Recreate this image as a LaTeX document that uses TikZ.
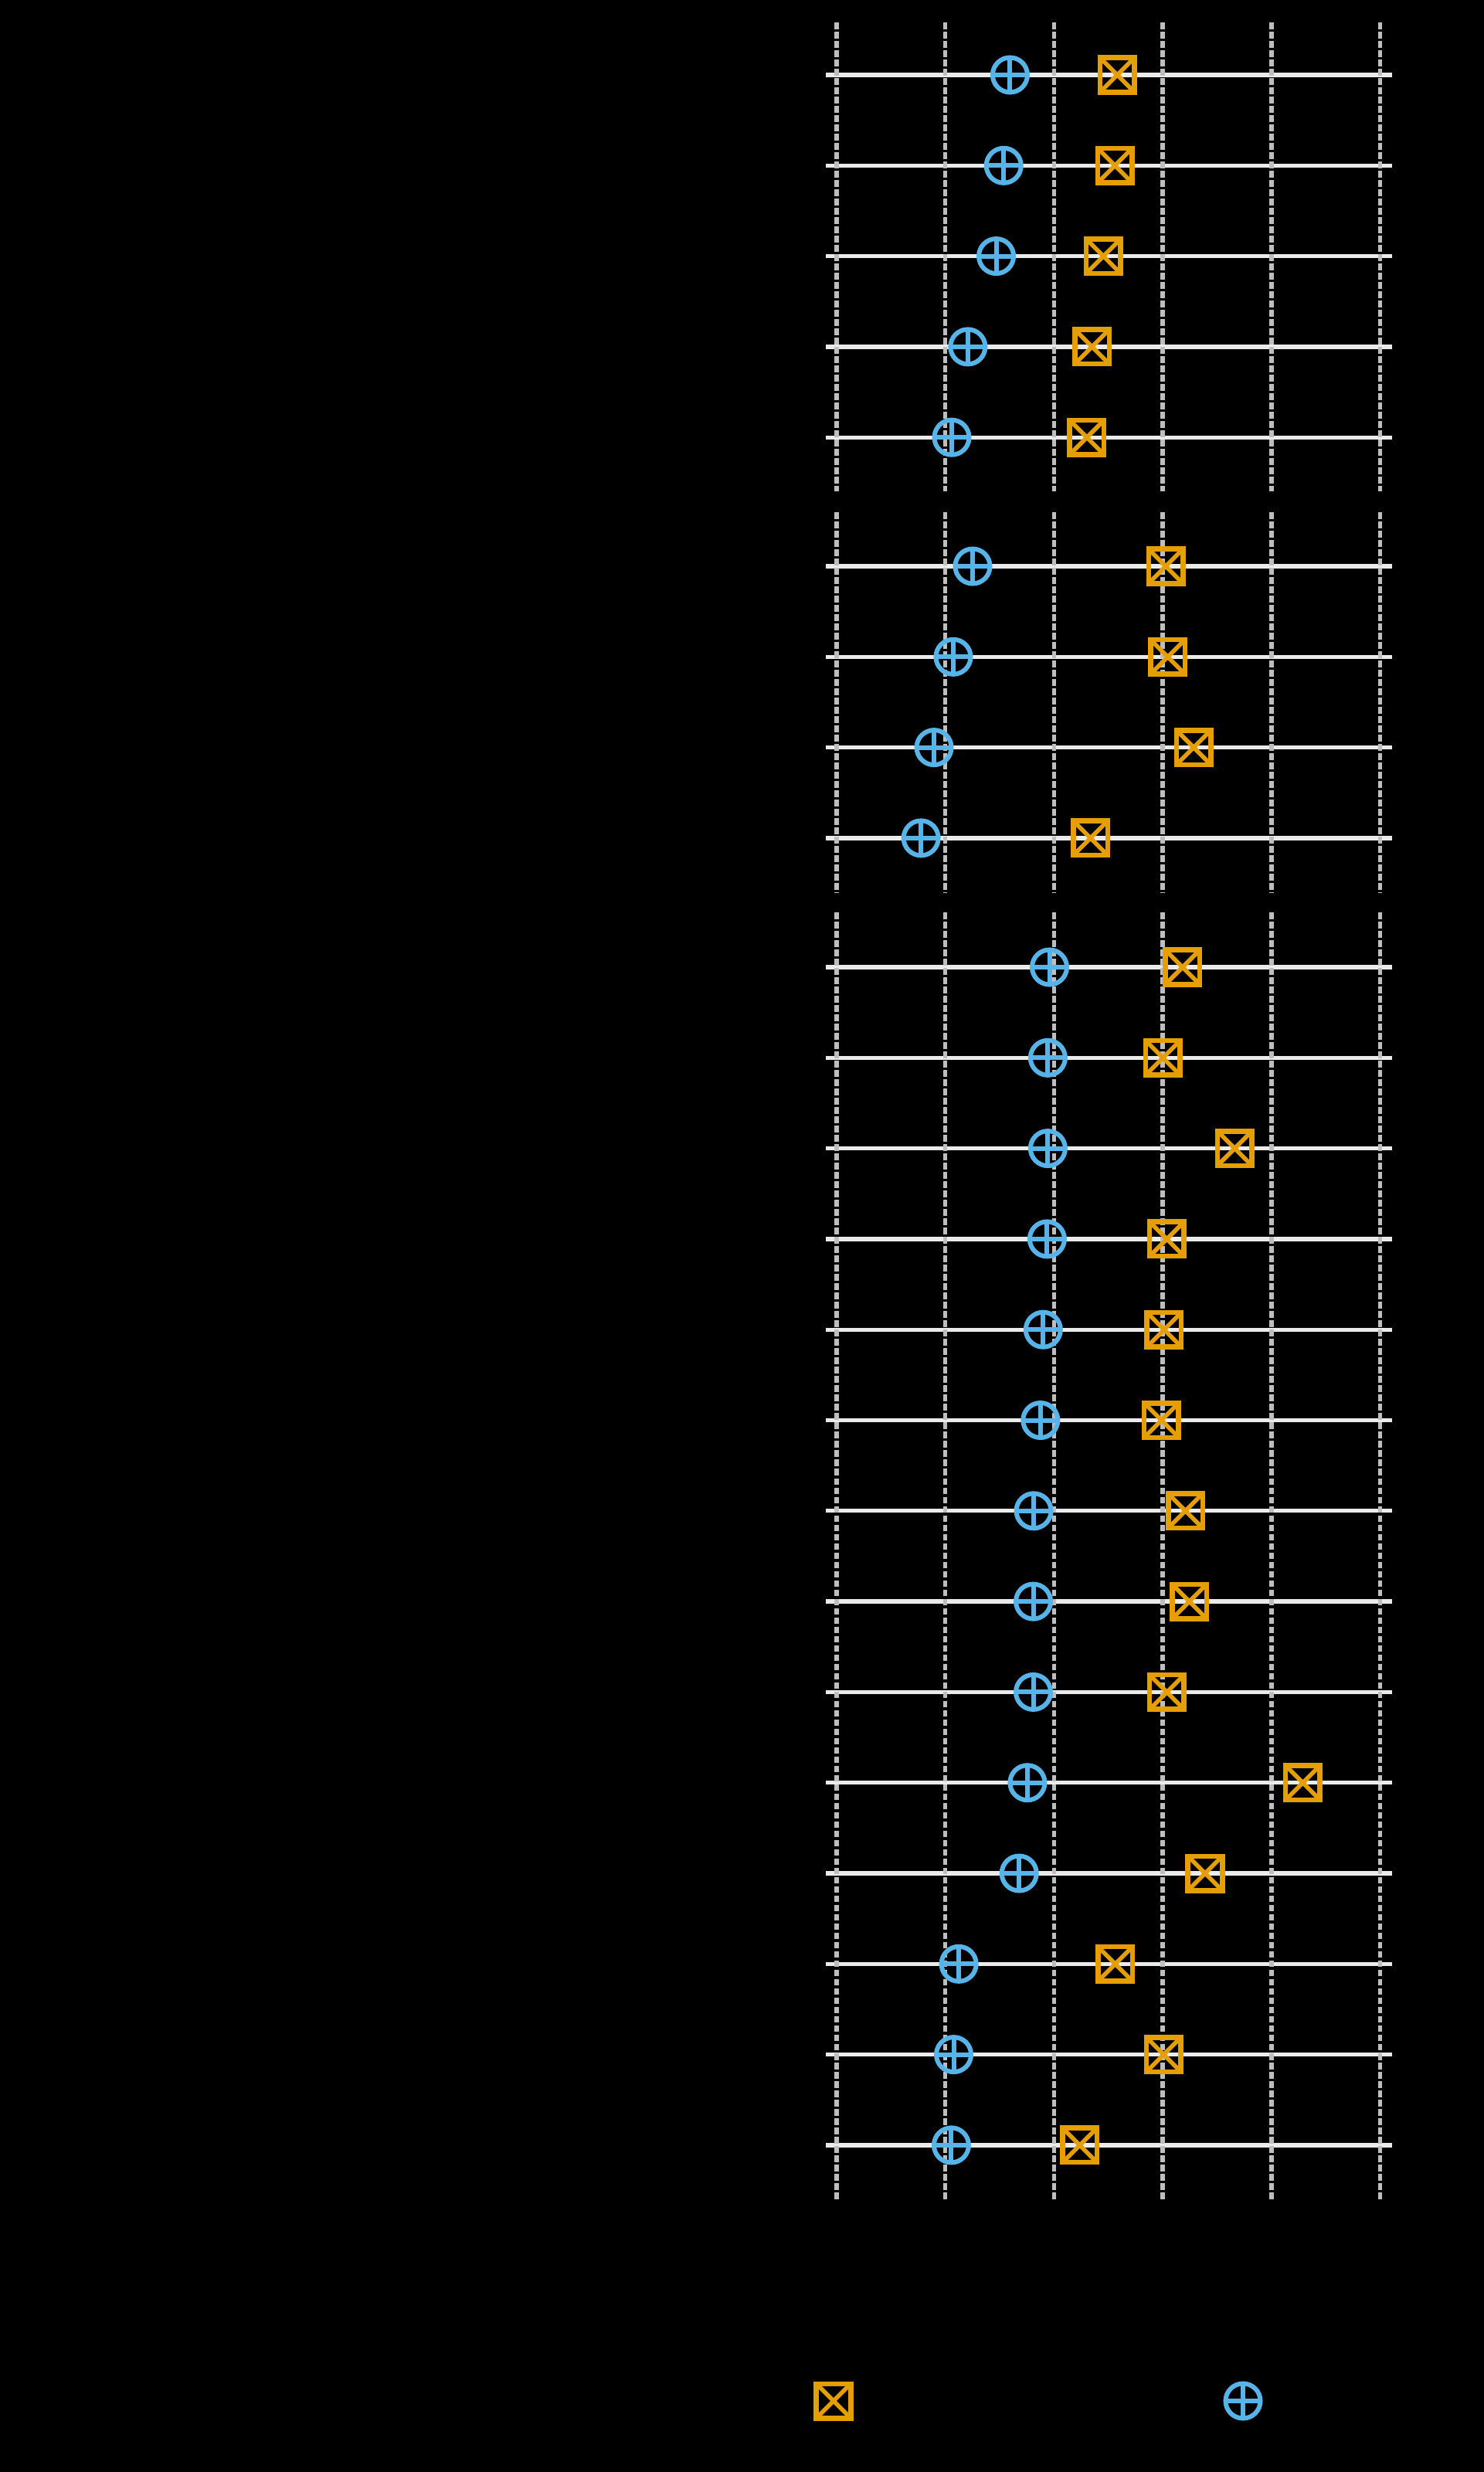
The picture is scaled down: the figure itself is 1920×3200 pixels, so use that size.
\documentclass[tikz,border=0pt]{standalone}
\definecolor{skyblue}{HTML}{56B4E9}
\definecolor{amber}{HTML}{E69F00}
\definecolor{gridgray}{HTML}{BEBEBE}
\definecolor{rowgray}{HTML}{EBEBEB}
\tikzset{
  ring/.style={circle, draw=skyblue, line width=0.06cm, minimum size=0.45cm, inner sep=0pt,
    path picture={\draw[skyblue, line width=0.06cm] (path picture bounding box.north) -- (path picture bounding box.south)
      (path picture bounding box.west) -- (path picture bounding box.east);}},
  xbox/.style={rectangle, draw=amber, line width=0.065cm, minimum size=0.445cm, inner sep=0pt,
    path picture={\draw[amber, line width=0.055cm] (path picture bounding box.north west) -- (path picture bounding box.south east)
      (path picture bounding box.north east) -- (path picture bounding box.south west);}},
  hline/.style={rowgray, line width=0.053cm},
  vline/.style={gridgray, line width=0.055cm, dash pattern=on 0.085cm off 0.035cm}
}
% row y / circle value / box value (values in grid steps)
\def\rows{97/1.595/2.582, 214.3/1.537/2.560, 331.6/1.468/2.455, 448.9/1.207/2.350, 566.2/1.059/2.302,
  733/1.251/3.028, 850.3/1.073/3.046, 967.6/0.896/3.285, 1084.9/0.776/2.335,
  1252/1.958/3.183, 1369.3/1.943/3.002, 1486.6/1.943/3.662, 1603.9/1.936/3.038, 1721.2/1.900/3.013,
  1838.5/1.875/2.988, 1955.8/1.813/3.209, 2073.1/1.809/3.245, 2190.4/1.809/3.038, 2307.7/1.755/4.289,
  2425/1.679/3.390, 2542.3/1.124/2.563, 2659.6/1.077/3.009, 2776.9/1.055/2.237}
\begin{document}
\begin{tikzpicture}[x=0.01cm, y=-0.01cm]
\useasboundingbox (0,0) rectangle (1920,3200);
\fill[black] (-10,-10) rectangle (1930,3210);
% rows
\foreach \y/\c/\b [count=\i] in \rows {
  \coordinate (l\i) at (1069,\y);
  \coordinate (r\i) at (1802,\y);
  \draw[hline] (l\i) -- (r\i);
}
% dashed grid, one block per panel
\foreach \t/\e in {29/636, 663/1156, 1181/2847}
  \foreach \k in {0,...,5}
    \draw[vline] ({1083+140.7*\k},\t) -- ({1083+140.7*\k},\e);
% markers
\foreach \y/\c/\b [count=\i] in \rows {
  \node[ring] (c\i) at ({1083+140.7*\c},\y) {};
  \node[xbox] (b\i) at ({1083+140.7*\b},\y) {};
}
% legend
\node[xbox] (kb) at (1079,3108) {};
\node[ring] (kc) at (1609,3108) {};
\end{tikzpicture}
\end{document}
